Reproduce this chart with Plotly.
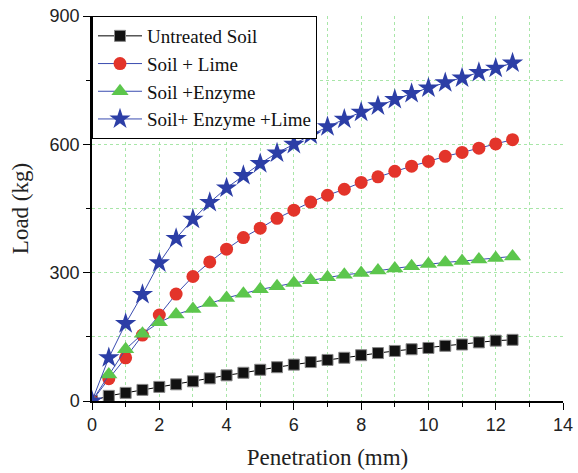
import plotly.graph_objects as go

penetration = [0, 0.5, 1, 1.5, 2, 2.5, 3, 3.5, 4, 4.5, 5, 5.5, 6, 6.5, 7, 7.5, 8, 8.5, 9, 9.5, 10, 10.5, 11, 11.5, 12, 12.5]
untreated = [0, 12, 19, 26, 33, 39, 46, 53, 60, 66, 73, 79, 85, 91, 96, 101, 107, 112, 117, 121, 124, 129, 132, 137, 141, 143]
soil_lime = [0, 52, 101, 154, 201, 250, 291, 325, 355, 382, 404, 427, 446, 465, 481, 495, 511, 524, 537, 549, 560, 572, 581, 591, 601, 611]
soil_enzyme = [0, 62, 121, 157, 184, 202, 215, 229, 241, 251, 261, 268, 276, 282, 289, 295, 299, 305, 310, 315, 320, 324, 327, 331, 334, 338]
soil_enzyme_lime = [0, 101, 181, 249, 323, 380, 425, 464, 498, 527, 555, 580, 600, 622, 641, 659, 675, 690, 705, 719, 732, 744, 755, 768, 778, 790]

names = ["Untreated Soil", "Soil + Lime", "Soil +Enzyme", "Soil+ Enzyme +Lime"]

serif = "Liberation Serif, Times New Roman, serif"
sans = "Liberation Sans, Arial, sans-serif"

fig = go.Figure()
line_blue = "#3a4cb0"
fig.add_trace(go.Scatter(x=penetration, y=untreated, name=names[0], mode="lines+markers",
                         line=dict(color="#000000", width=1),
                         marker=dict(symbol="square", size=11, color="#111111", line=dict(color="#888888", width=1))))
fig.add_trace(go.Scatter(x=penetration, y=soil_lime, name=names[1], mode="lines+markers",
                         line=dict(color=line_blue, width=1),
                         marker=dict(symbol="circle", size=13, color="#e3342a", line=dict(width=0))))
fig.add_trace(go.Scatter(x=penetration, y=soil_enzyme, name=names[2], mode="lines+markers",
                         line=dict(color=line_blue, width=1),
                         marker=dict(symbol="triangle-up", size=15, color="#5cc64c", line=dict(width=0))))
fig.add_trace(go.Scatter(x=penetration, y=soil_enzyme_lime, name=names[3], mode="lines+markers",
                         line=dict(color=line_blue, width=1),
                         marker=dict(symbol="star", size=16, color="#2c3ea6", line=dict(width=0))))

grid_col = "#a8e6a8"
fig.update_layout(
    width=578, height=473,
    margin=dict(l=92, r=15, t=16, b=72),
    plot_bgcolor="white", paper_bgcolor="white",
    showlegend=True,
    legend=dict(x=0, y=1, xanchor="left", yanchor="top", bgcolor="white",
                bordercolor="black", borderwidth=1,
                font=dict(family=serif, size=19, color="#111"),
                tracegroupgap=0, itemwidth=44, itemsizing="trace"),
    xaxis=dict(range=[0, 14], dtick=2, tick0=0, ticks="outside", ticklen=7, tickwidth=1.2,
               tickcolor="black", showline=True, linecolor="black", linewidth=1.5,
               showgrid=True, gridcolor=grid_col, griddash="dot", gridwidth=1,
               zeroline=False, automargin=False,
               minor=dict(dtick=1, ticks="outside", ticklen=4, tickcolor="black",
                          showgrid=True, gridcolor=grid_col, griddash="dot"),
               tickfont=dict(family=sans, size=18, color="#222"),
               title=dict(text="Penetration (mm)", font=dict(family=serif, size=23, color="#222"))),
    yaxis=dict(range=[0, 900], dtick=300, tick0=0, ticks="outside", ticklen=7, tickwidth=1.2,
               tickcolor="black", showline=True, linecolor="black", linewidth=1.5,
               showgrid=True, gridcolor=grid_col, griddash="dot", gridwidth=1,
               zeroline=False, automargin=False,
               minor=dict(dtick=150, ticks="outside", ticklen=4, tickcolor="black",
                          showgrid=True, gridcolor=grid_col, griddash="dot"),
               tickfont=dict(family=sans, size=18, color="#222"),
               title=dict(text="Load (kg)", font=dict(family=serif, size=23, color="#222"))),
    xaxis2=dict(range=[0, 14], overlaying="x", side="top", dtick=1, tick0=0, ticks="inside",
                ticklen=6, tickcolor="black", showticklabels=False, showline=True,
                linecolor="black", linewidth=1.5, showgrid=False, zeroline=False),
    yaxis2=dict(range=[0, 900], overlaying="y", side="right", dtick=50, tick0=0, ticks="inside",
                ticklen=5, tickcolor="black", showticklabels=False, showline=True,
                linecolor="black", linewidth=1.5, showgrid=False, zeroline=False),
)

fig.write_html("out.html")
